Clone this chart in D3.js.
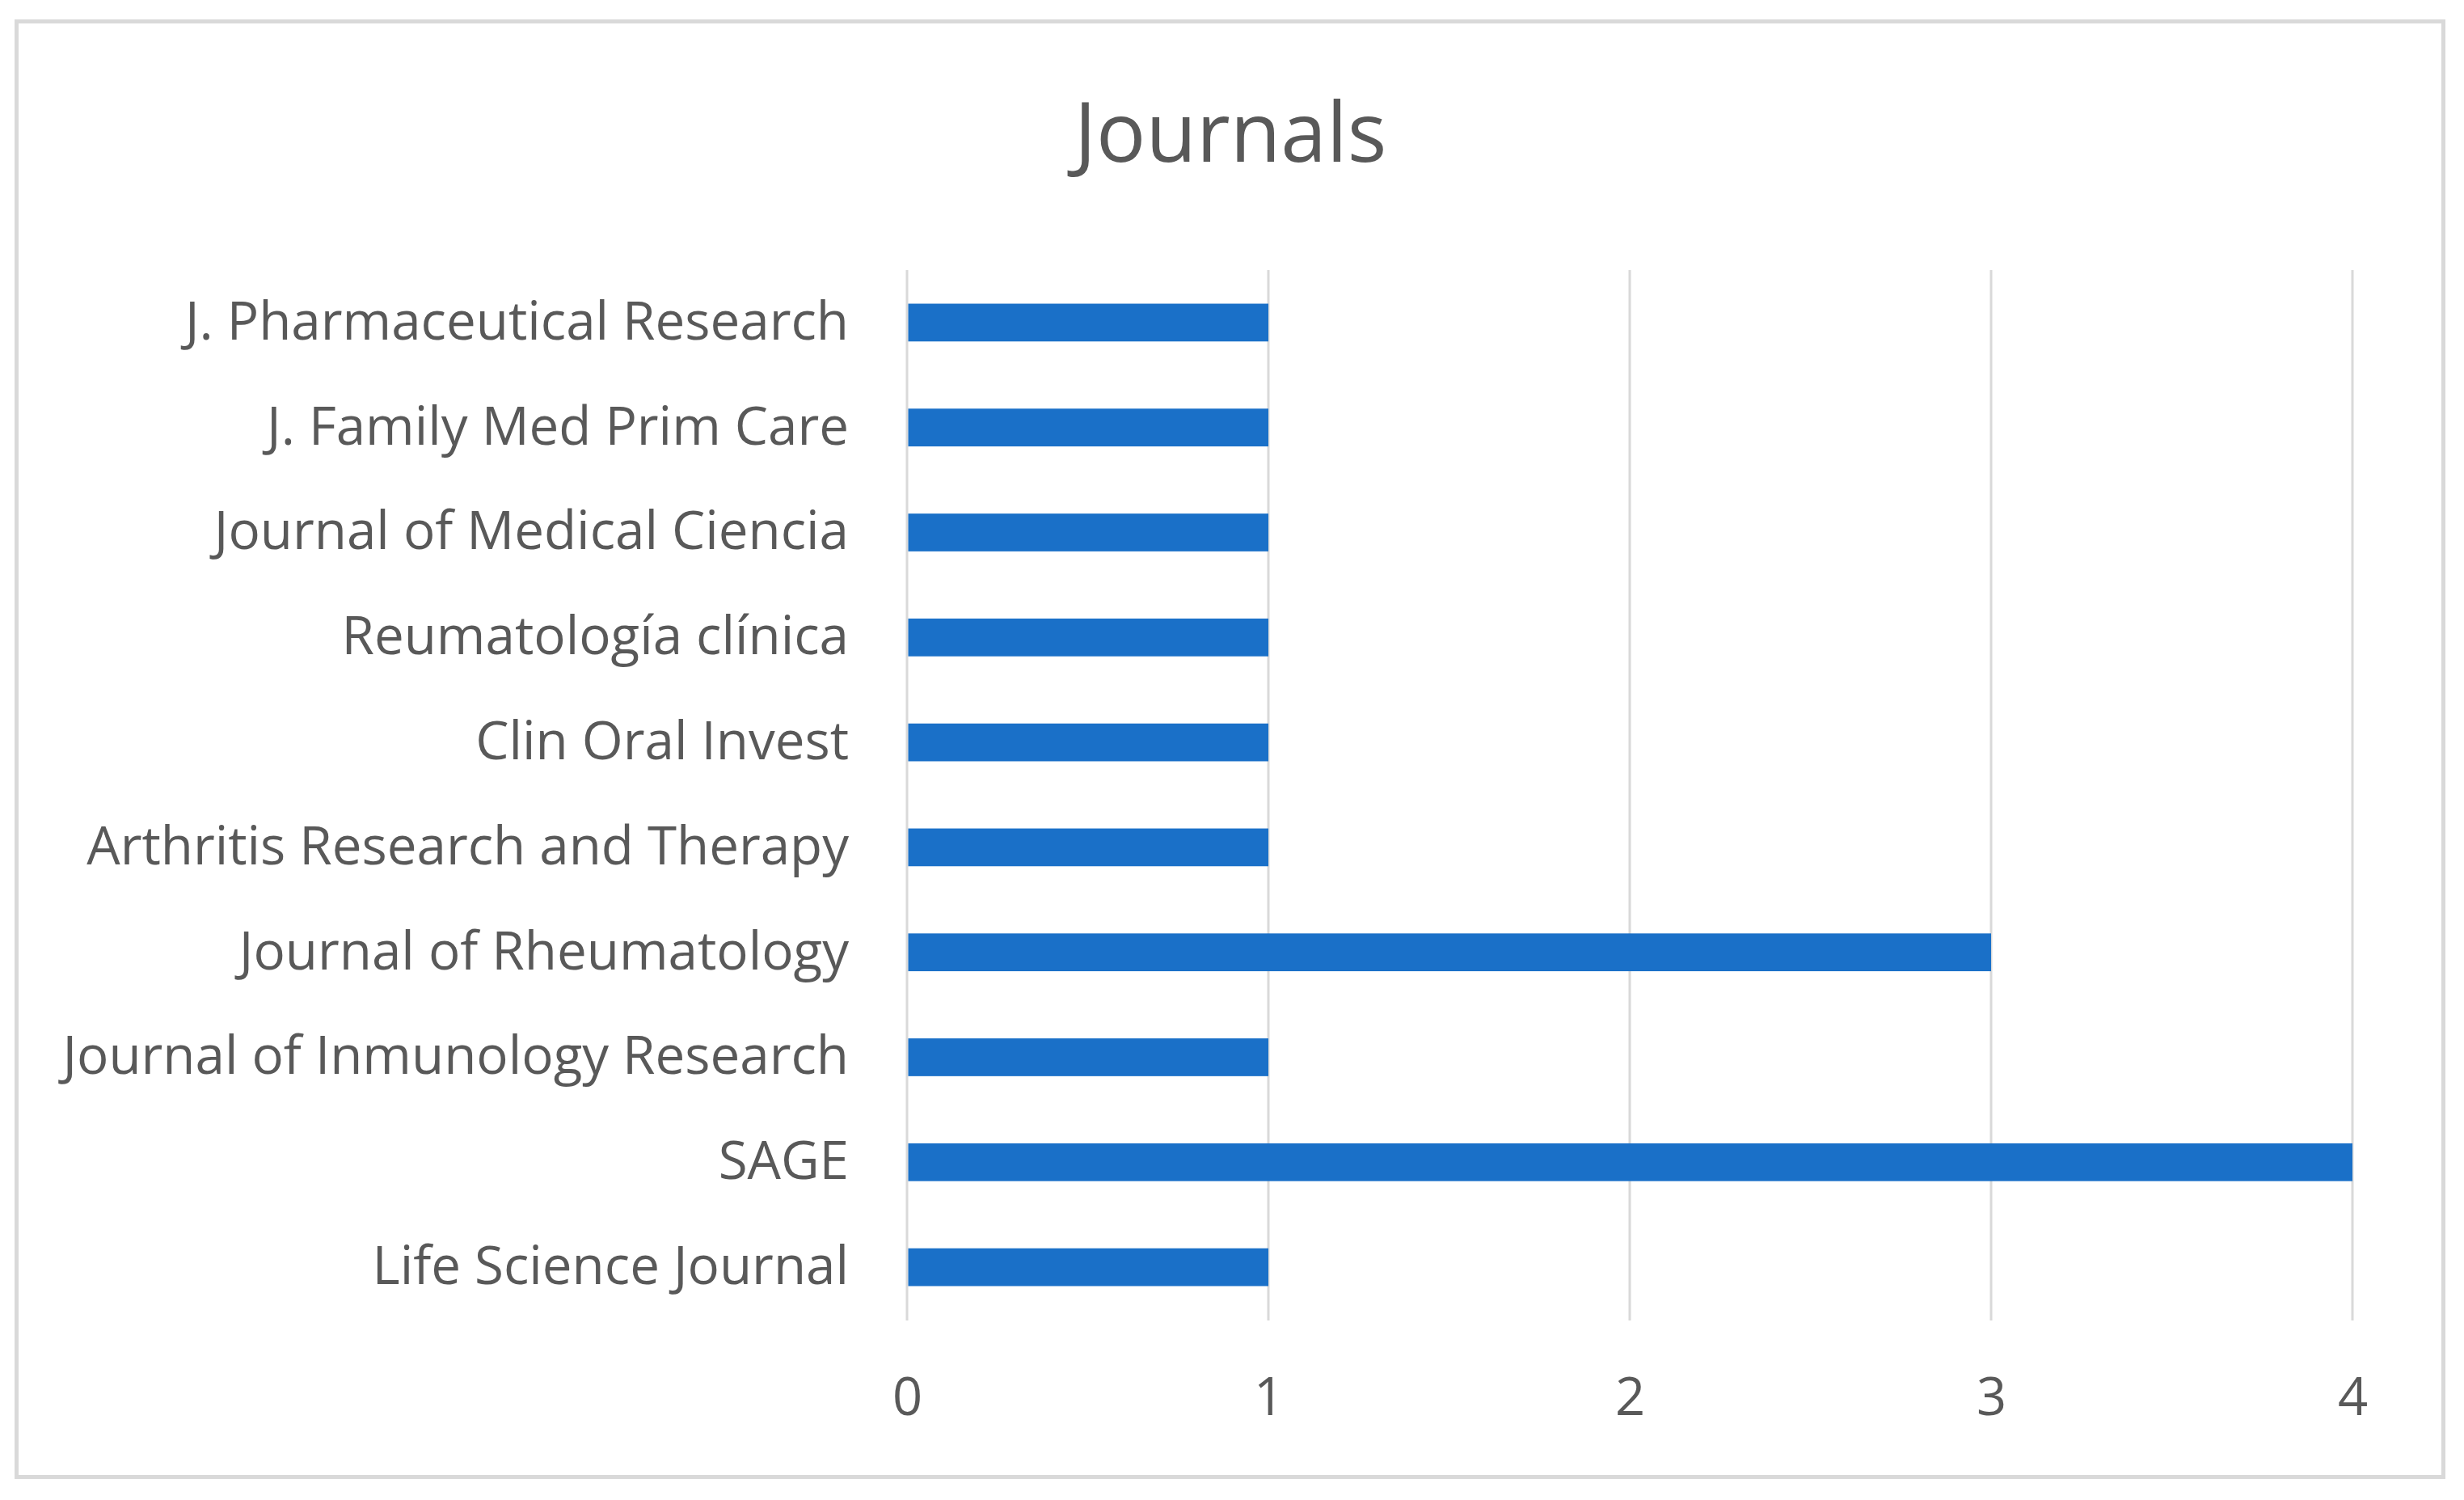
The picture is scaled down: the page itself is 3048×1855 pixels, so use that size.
<html>
<head>
  <title>Journals</title>
  <script src="https://d3js.org/d3.v7.min.js"></script>
  <style>
    body { margin: 0; background: #fff; }
  </style>
</head>
<body>
  <script>
    // journals, top to bottom as they appear in the chart
    const journals = [
      "J. Pharmaceutical Research",
      "J. Family Med Prim Care",
      "Journal of Medical Ciencia",
      "Reumatología clínica",
      "Clin Oral Invest",
      "Arthritis Research and Therapy",
      "Journal of Rheumatology",
      "Journal of Inmunology Research",
      "SAGE",
      "Life Science Journal"
    ];
    const counts = [1, 1, 1, 1, 1, 1, 3, 1, 4, 1];
    const xTicks = [0, 1, 2, 3, 4];

    const data = journals.map((name, i) => ({ name: name, value: counts[i] }));

    var width = 3048,
        height = 1855;

    var svg = d3.select("body")
      .append("svg")
      .attr("width", width)
      .attr("height", height);

    // outer frame
    svg.append("rect")
      .attr("x", 20.5)
      .attr("y", 26.5)
      .attr("width", 3002)
      .attr("height", 1800)
      .attr("fill", "#fff")
      .attr("stroke", "#d9d9d9")
      .attr("stroke-width", 5);

    svg.append("text")
      .attr("x", 1522)
      .attr("y", 200)
      .attr("text-anchor", "middle")
      .attr("font-family", "Open Sans")
      .attr("font-size", 102)
      .attr("fill", "#595959")
      .text("Journals");

    var x = d3.scaleLinear()
      .domain([0, 4])
      .range([1122, 2910]);

    var y = d3.scaleBand()
      .domain(journals)
      .range([334, 1632])
      .paddingInner(0.64)
      .paddingOuter(0.32);

    // gridlines
    svg.append("g")
      .selectAll("line")
      .data(xTicks)
      .enter()
      .append("line")
      .attr("x1", d => x(d))
      .attr("x2", d => x(d))
      .attr("y1", 334)
      .attr("y2", 1633)
      .attr("stroke", "#d9d9d9")
      .attr("stroke-width", 3);

    // bars
    svg.append("g")
      .selectAll("rect")
      .data(data)
      .enter()
      .append("rect")
      .attr("x", x(0) + 1.5)
      .attr("y", d => y(d.name))
      .attr("width", d => x(d.value) - x(0) - 1.5)
      .attr("height", y.bandwidth())
      .attr("fill", "#1a70c8");

    // axes (labels only)
    var xAxis = svg.append("g")
      .attr("transform", "translate(0,1633)")
      .call(d3.axisBottom(x).tickValues(xTicks).tickFormat(d3.format("d")).tickSize(0).tickPadding(0));
    xAxis.select(".domain").remove();
    xAxis.selectAll("text")
      .attr("dy", null)
      .attr("y", 117)
      .attr("font-family", "Open Sans")
      .attr("font-size", 65)
      .attr("fill", "#595959");

    var yAxis = svg.append("g")
      .attr("transform", "translate(1122,0)")
      .call(d3.axisLeft(y).tickSize(0).tickPadding(72));
    yAxis.select(".domain").remove();
    yAxis.selectAll("text")
      .attr("font-family", "Open Sans")
      .attr("font-size", 65.5)
      .attr("fill", "#595959");
  </script>
</body>
</html>
